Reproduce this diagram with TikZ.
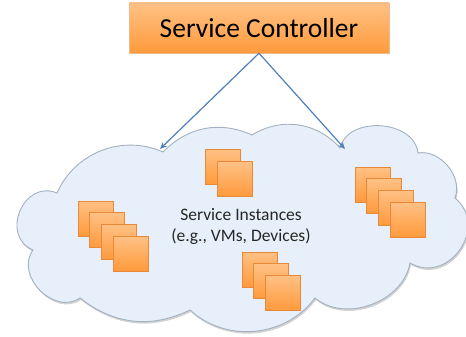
\documentclass[tikz,border=0pt]{standalone}
\usepackage{fontspec}
\setmainfont{Carlito}
\usetikzlibrary{arrows.meta,shadows}
\definecolor{cloudfill}{HTML}{E6EFFA}
\definecolor{cloudline}{HTML}{A3B1C0}
\definecolor{boxtop}{HTML}{FFC185}
\definecolor{boxbot}{HTML}{FF9A3C}
\definecolor{boxline}{HTML}{E8893A}
\definecolor{arrowblue}{HTML}{4F7FBC}
\begin{document}
\begin{tikzpicture}[x=1pt,y=-1pt]
        \tikzset{
          vm/.style={draw=boxline,line width=0.5pt,top color=boxtop,bottom color=boxbot,
            minimum size=35pt,inner sep=0pt},
          ctrlbox/.style={draw=boxline!60,line width=0.4pt,top color=boxtop,bottom color=boxbot,
            minimum width=260pt,minimum height=50pt,inner sep=0pt,
            drop shadow={opacity=0.25,shadow xshift=1pt,shadow yshift=-1.5pt}},
          link/.style={arrowblue,line width=1.2pt,-{Stealth[length=7pt,width=6pt]}}
        }
        \useasboundingbox (0,0) rectangle (466,337);
        %CLOUD
        \path[fill=cloudfill,draw=cloudline,line width=0.9pt,
              drop shadow={opacity=0.35,shadow xshift=1pt,shadow yshift=-2pt}]
          (57,193) to[bend left=45] (163,152) to[bend left=35] (252,135)
          to[bend left=40] (340,148) to[bend left=80,looseness=1.1] (418,153)
          to[bend left=60] (455,198) to[bend left=85,looseness=1.45] (410,263)
          to[bend left=60] (315,298) to[bend left=48] (190,310)
          to[bend left=32] (80,298) to[bend left=80,looseness=1.2] (33,250)
          to[bend left=90,looseness=1.5] (57,193) -- cycle;
        %CONTROLLER
        \node[ctrlbox,font=\fontsize{27.5}{32}\selectfont] (ctrl) at (259,28) {Service Controller};
        \coordinate (inL) at (160,149);
        \coordinate (inR) at (345,149);
        \draw[link] (ctrl.south) -- (inL);
        \draw[link] (ctrl.south) -- (inR);
        %STACKS
        \foreach \i in {1,...,4}{
            \node[vm] (left\i) at (95.5+11.7*\i-11.7,218.5+11.7*\i-11.7) {};
        }
        \foreach \i in {1,2}{
            \node[vm] (top\i) at (223+11.5*\i-11.5,166.5+12.5*\i-12.5) {};
        }
        \foreach \i in {1,...,4}{
            \node[vm] (right\i) at (372.5+11.7*\i-11.7,184.5+11.7*\i-11.7) {};
        }
        \foreach \i in {1,...,3}{
            \node[vm] (bottom\i) at (259.5+11.7*\i-11.7,269.5+11.7*\i-11.7) {};
        }
        \node[align=center,text=black!85,font=\fontsize{17.5}{21}\selectfont] (inst) at (241,226)
          {Service Instances\\(e.g., VMs, Devices)};
\end{tikzpicture}
\end{document}
